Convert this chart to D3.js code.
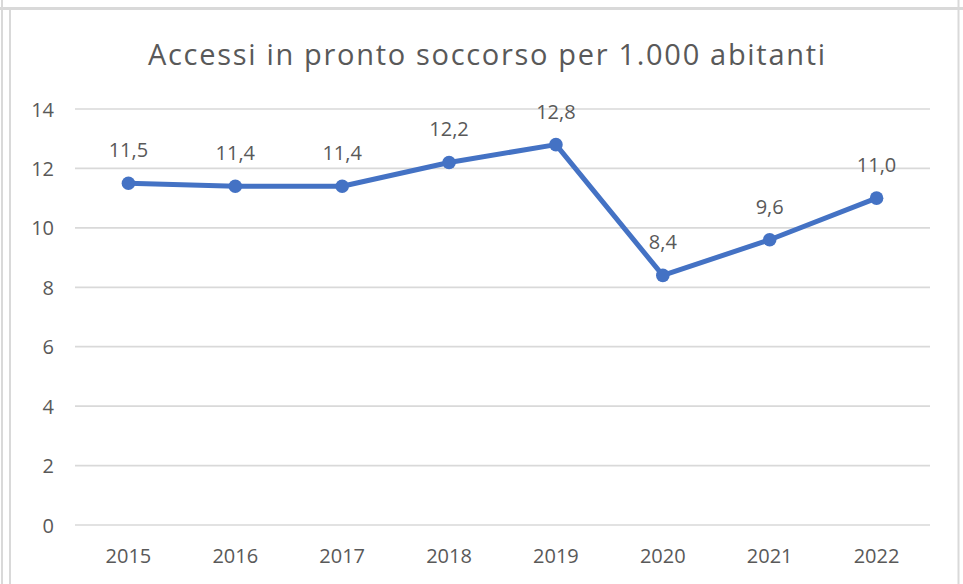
<!DOCTYPE html>
<html><head><meta charset="utf-8">
<script src="https://cdn.jsdelivr.net/npm/d3@7"></script>
<style>body{margin:0;background:#fff;} svg{display:block;}</style>
</head><body>
<svg id="c" width="963" height="584"></svg>
<script>
const years = ["2015","2016","2017","2018","2019","2020","2021","2022"];
const values = [11.5, 11.4, 11.4, 12.2, 12.8, 8.4, 9.6, 11.0];
const yTicks = [0,2,4,6,8,10,12,14];
const title = "Accessi in pronto soccorso per 1.000 abitanti";

const svg = d3.select("#c");
const FONT = "'Open Sans', 'Noto Sans', sans-serif";
const TXT = "#595959";

// frame
svg.append("rect").attr("x",0).attr("y",0).attr("width",963).attr("height",584).attr("fill","#fff");
svg.append("line").attr("x1",2).attr("x2",2).attr("y1",0).attr("y2",584).attr("stroke","#d9d9d9").attr("stroke-width",2);
svg.append("line").attr("x1",10).attr("x2",10).attr("y1",9).attr("y2",584).attr("stroke","#d9d9d9").attr("stroke-width",2);
svg.append("line").attr("x1",0).attr("x2",963).attr("y1",8.5).attr("y2",8.5).attr("stroke","#d9d9d9").attr("stroke-width",3);
svg.append("line").attr("x1",958.5).attr("x2",958.5).attr("y1",0).attr("y2",584).attr("stroke","#d9d9d9").attr("stroke-width",2);

const x = d3.scaleBand().domain(years).range([75, 930]);
const y = d3.scaleLinear().domain([0,14]).range([525, 109]);

// gridlines
svg.append("g").selectAll("line").data(yTicks).join("line")
  .attr("x1",75).attr("x2",930)
  .attr("y1",d=>y(d)).attr("y2",d=>y(d))
  .attr("stroke","#d9d9d9").attr("stroke-width",1.7);

// y axis
const ya = svg.append("g").attr("transform","translate(54,0)")
  .call(d3.axisLeft(y).tickValues(yTicks).tickSize(0).tickPadding(0).tickFormat(d3.format("d")));
ya.select(".domain").remove();
ya.selectAll("text").attr("fill",TXT).style("font-family",FONT).style("font-size","20px").attr("x",0).attr("dy","0.35em");

// x axis
const xa = svg.append("g").attr("transform","translate(0,525)")
  .call(d3.axisBottom(x).tickSize(0).tickPadding(0));
xa.select(".domain").remove();
xa.selectAll("text").attr("fill",TXT).style("font-family",FONT).style("font-size","20px").attr("dy",0).attr("y",38);

// title
svg.append("text").attr("x",486.5).attr("y",65).attr("text-anchor","middle")
  .attr("fill",TXT).style("font-family",FONT).style("font-size","29px")
  .attr("textLength",677).attr("lengthAdjust","spacing").text(title);

const cx = (d,i)=>x(years[i])+x.bandwidth()/2;
// line
svg.append("path").datum(values)
  .attr("fill","none").attr("stroke","#4472C4").attr("stroke-width",5).attr("stroke-linejoin","round")
  .attr("d", d3.line().x(cx).y(d=>y(d)));
svg.append("g").selectAll("circle").data(values).join("circle")
  .attr("cx",cx).attr("cy",d=>y(d)).attr("r",6.8).attr("fill","#4472C4");

const fmt = d => d3.format(".1f")(d).replace(".",",");
svg.append("g").selectAll("text").data(values).join("text")
  .attr("x",cx).attr("y",d=>y(d)-26).attr("text-anchor","middle")
  .attr("fill",TXT).style("font-family",FONT).style("font-size","20px").text(fmt);
</script>
</body></html>
